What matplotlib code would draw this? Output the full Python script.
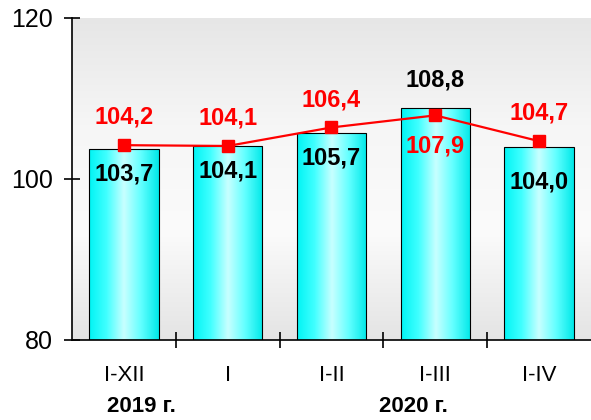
import numpy as np
import matplotlib
matplotlib.use("Agg")
import matplotlib.pyplot as plt
from matplotlib.colors import LinearSegmentedColormap

plt.rcParams["font.family"] = ["Liberation Sans", "DejaVu Sans"]

# ── data ────────────────────────────────────────────────────────────
categories = ["I-XII", "I", "I-II", "I-III", "I-IV"]
bar_values = [103.7, 104.1, 105.7, 108.8, 104.0]
line_values = [104.2, 104.1, 106.4, 107.9, 104.7]
years = ["2019 г.", "2020 г."]

# label offsets in points (placement only)
bar_lbl_off = [-18, -18, -18, 20, -25]
line_lbl_off = [20, 20, 20, -22, 20]

fig = plt.figure(figsize=(5.91, 4.2), dpi=100)
ax = fig.add_axes([0.1218, 0.1905, 0.8782, 0.7667])

x = np.arange(len(categories))
ax.set_xlim(-0.5, len(categories) - 0.5)
ax.set_ylim(80, 120)

# background gradient (gray - white - gray, vertical)
bg_cmap = LinearSegmentedColormap.from_list(
    "bg", ["#e4e4e4", "#fbfbfb", "#f6f6f6", "#e6e6e6"])
grad = np.linspace(0, 1, 256).reshape(-1, 1)
ax.imshow(grad, extent=[-0.5, len(categories) - 0.5, 120, 80],
          cmap=bg_cmap, aspect="auto", zorder=0)

# bars with horizontal cyan gradient
bar_cmap = LinearSegmentedColormap.from_list(
    "cy", ["#00f4f4", "#40ffff", "#c8ffff", "#60ffff", "#00e8e8"])
hgrad = np.linspace(0, 1, 256).reshape(1, -1)
bars = ax.bar(x, [v - 80 for v in bar_values], bottom=80, width=0.67,
              facecolor="none", edgecolor="black", linewidth=0.8, zorder=3)
for b in bars:
    x0, w = b.get_x(), b.get_width()
    im = ax.imshow(hgrad, extent=[x0, x0 + w, 80, 80 + b.get_height()],
                   cmap=bar_cmap, aspect="auto", zorder=2)
    im.set_clip_path(b)

ax.plot(x, line_values, color="#ff0000", lw=1.6, marker="s", ms=8,
        zorder=4)

for i, v in enumerate(bar_values):
    ax.annotate(f"{v:.1f}".replace(".", ","), (x[i], v),
                xytext=(0, bar_lbl_off[i]), textcoords="offset points",
                ha="center", va="center", fontsize=17, fontweight="bold",
                color="black", zorder=5)
for i, v in enumerate(line_values):
    ax.annotate(f"{v:.1f}".replace(".", ","), (x[i], v),
                xytext=(0, line_lbl_off[i]), textcoords="offset points",
                ha="center", va="center", fontsize=17, fontweight="bold",
                color="#ff0000", zorder=5)

ax.set_xlim(-0.5, len(categories) - 0.5)
ax.set_ylim(80, 120)
ax.set_yticks([80, 100, 120])
ax.tick_params(axis="y", direction="inout", length=11, width=1.2,
               labelsize=18, pad=8)
ax.set_xticks(np.arange(len(categories) - 1) + 0.5)
ax.set_xticklabels([])
ax.tick_params(axis="x", direction="inout", length=11, width=1.2)
for i, c in enumerate(categories):
    ax.text(x[i], -0.11, c, transform=ax.get_xaxis_transform(),
            ha="center", va="center", fontsize=16)
ax.text(0.17, -0.205, years[0], transform=ax.get_xaxis_transform(),
        ha="center", va="center", fontsize=16, fontweight="bold")
ax.text(2.79, -0.205, years[1], transform=ax.get_xaxis_transform(),
        ha="center", va="center", fontsize=16, fontweight="bold")

for s in ["top", "right"]:
    ax.spines[s].set_visible(False)
ax.spines["left"].set_linewidth(1.2)
ax.spines["bottom"].set_linewidth(1.2)
ax.spines["left"].set_zorder(6)
ax.spines["bottom"].set_zorder(6)

fig.savefig("out.png", dpi=100)
